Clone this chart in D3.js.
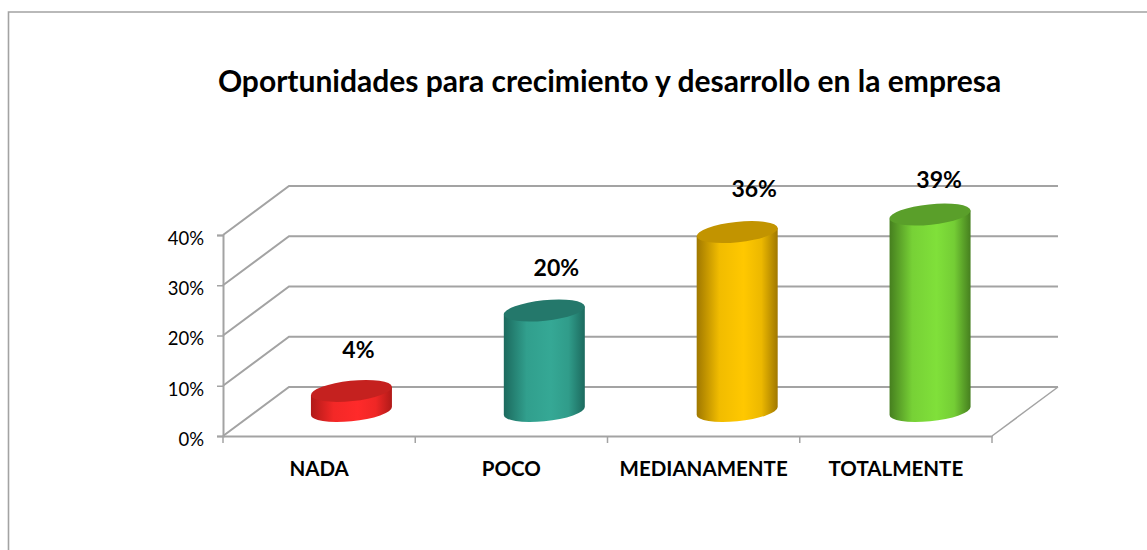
<!DOCTYPE html>
<html>
<head>
<meta charset="utf-8">
<script src="https://cdn.jsdelivr.net/npm/d3@7"></script>
<style>
    html, body { margin: 0; padding: 0; background: #fff; overflow: hidden; }
    svg { display: block; }
    text { font-family: Lato, "Open Sans", sans-serif; fill: #000; }
</style>
</head>
<body>
<script>
// Chart data
const title = "Oportunidades para crecimiento y desarrollo en la empresa";
const categories = ["NADA", "POCO", "MEDIANAMENTE", "TOTALMENTE"];
const values = [4, 20, 35.6, 39.1];
const valueLabels = ["4%", "20%", "36%", "39%"];
const yTicks = [0, 10, 20, 30, 40];

// Bar colours: edge of the cylinder, centre of the cylinder, top cap
const edgeColors = ["#b01a18", "#1c6a5e", "#a07800", "#467f1f"];
const midColors = ["#ff2a2a", "#35a895", "#ffc800", "#80e03a"];
const capColors = ["#c5211f", "#24786b", "#c29400", "#5a9f2a"];

const width = 1147;
const height = 550;

// Plot box, the back wall sits up and to the right of the front
const left = 223, right = 992, bottom = 436, top40 = 235;
const depthX = 66, depthY = -49;
const gridColor = "#a3a3a3";

const svg = d3.select("body").append("svg")
    .attr("width", width)
    .attr("height", height);

const x = d3.scaleBand().domain(categories).range([left, right]);
// Bars stand halfway into the floor, so their band is shifted and a bit wider
const barX = d3.scaleBand().domain(categories).range([left + 32, right + 34.5]);
const y = d3.scaleLinear().domain([0, 40]).range([bottom, top40]);

// Outer frame of the picture (only top and left are visible)
svg.append("path")
    .attr("d", `M8.5,${height} V12 H${width}`)
    .attr("fill", "none")
    .attr("stroke", "#a3a3a3")
    .attr("stroke-width", 1.6);

svg.append("text")
    .attr("x", 609.5)
    .attr("y", 92)
    .attr("text-anchor", "middle")
    .style("font-size", "30px")
    .style("font-weight", "700")
    .text(title);

// Gridlines: side wall diagonal + back wall horizontal
const grid = svg.append("g");
yTicks.forEach(t => {
    grid.append("path")
        .attr("d", `M${left},${y(t)} l${depthX},${depthY} H${right + depthX}`)
        .attr("fill", "none")
        .attr("stroke", gridColor)
        .attr("stroke-width", 2);
});

// Floor, right edge
grid.append("path")
    .attr("d", `M${right},${bottom} l${depthX},${depthY}`)
    .attr("fill", "none")
    .attr("stroke", gridColor)
    .attr("stroke-width", 1.5);

// Value axis
const yAxis = svg.append("g")
    .attr("transform", `translate(${left},0)`)
    .call(d3.axisLeft(y).tickValues(yTicks).tickSize(6).tickPadding(13).tickFormat(d => d + "%"));
yAxis.selectAll("text").style("font-size", "18.5px").attr("dy", "0.5em");
yAxis.selectAll("line").attr("stroke", gridColor).attr("stroke-width", 1.5);
yAxis.select(".domain").attr("stroke", gridColor).attr("stroke-width", 2);

// Category axis
const xAxis = svg.append("g")
    .attr("transform", `translate(0,${bottom})`)
    .call(d3.axisBottom(x).tickSize(0).tickPadding(33));
xAxis.selectAll("text").style("font-size", "20.5px").style("font-weight", "700").attr("dy", "0.35em");
xAxis.select(".domain").attr("stroke", gridColor).attr("stroke-width", 2);
[left, left + x.step(), left + 2 * x.step(), left + 3 * x.step(), right].forEach(tx => {
    xAxis.append("line")
        .attr("x1", tx).attr("x2", tx)
        .attr("y1", 0).attr("y2", 7)
        .attr("stroke", gridColor)
        .attr("stroke-width", 1.5);
});

// Cylinders
const defs = svg.append("defs");
categories.forEach((c, i) => {
    const g = defs.append("linearGradient")
        .attr("id", "bar" + i)
        .attr("x1", 0).attr("x2", 1).attr("y1", 0).attr("y2", 0);
    g.append("stop").attr("offset", "0%").attr("stop-color", edgeColors[i]);
    g.append("stop").attr("offset", "28%").attr("stop-color", d3.interpolateRgb(edgeColors[i], midColors[i])(0.85));
    g.append("stop").attr("offset", "58%").attr("stop-color", midColors[i]);
    g.append("stop").attr("offset", "80%").attr("stop-color", d3.interpolateRgb(edgeColors[i], midColors[i])(0.8));
    g.append("stop").attr("offset", "100%").attr("stop-color", edgeColors[i]);
});

// Ellipse of the cap and its tangent points
const rx = 40.7, ry = 10.2, tilt = -6, halfW = 40.5, tangentY = 4;
const baseY = bottom - 25;   // centre of the base, halfway into the floor

const bars = svg.append("g");
categories.forEach((c, i) => {
    const cx = barX(c) + barX.bandwidth() / 2;
    const h = bottom - y(values[i]);
    const topY = baseY - h;
    bars.append("path")
        .attr("d", `M${cx - halfW},${topY + tangentY} V${baseY + tangentY}` +
            ` A${rx},${ry} ${tilt} 0 0 ${cx + halfW},${baseY - tangentY}` +
            ` V${topY - tangentY} Z`)
        .attr("fill", `url(#bar${i})`);
    bars.append("ellipse")
        .attr("rx", rx)
        .attr("ry", ry)
        .attr("transform", `translate(${cx},${topY}) rotate(${tilt})`)
        .attr("fill", capColors[i]);
});

// Value labels were moved by hand in the original chart
const labelShiftX = [7, 12, 17, 9];
const labelShiftY = [-41, -42.5, -43, -34.6];
svg.append("g").selectAll("text")
    .data(categories)
    .enter()
    .append("text")
    .attr("x", (d, i) => barX(d) + barX.bandwidth() / 2 + labelShiftX[i])
    .attr("y", (d, i) => baseY - (bottom - y(values[i])) + labelShiftY[i])
    .attr("dy", "0.35em")
    .attr("text-anchor", "middle")
    .style("font-size", "23px")
    .style("font-weight", "700")
    .text((d, i) => valueLabels[i]);
</script>
</body>
</html>
